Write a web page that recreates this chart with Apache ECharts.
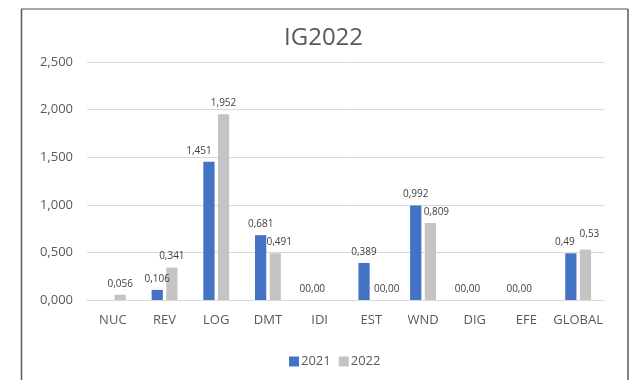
<!DOCTYPE html>
<html>
<head>
<meta charset="utf-8">
<script src="https://cdn.jsdelivr.net/npm/echarts@6/dist/echarts.min.js"></script>
<style>
  html, body { margin: 0; padding: 0; background: #fff; }
  #chart { width: 630px; height: 380px; }
</style>
</head>
<body>
<div id="chart"></div>
<script>
// Indicator categories
const categories = ['NUC', 'REV', 'LOG', 'DMT', 'IDI', 'EST', 'WND', 'DIG', 'EFE', 'GLOBAL'];
// Series values (null = no value reported)
const values2021 = [null, 0.106, 1.451, 0.681, 0, 0.389, 0.992, 0, 0, 0.49];
const values2022 = [0.056, 0.341, 1.952, 0.491, null, 0, 0.809, null, null, 0.53];
const seriesNames = ['2021', '2022'];
// Value axis ticks
const yTicks = [0, 0.5, 1, 1.5, 2, 2.5];

const FONT = '"Open Sans", "Noto Sans", sans-serif';

function fmtLabel(p) {
  const v = p.value;
  if (v === null || v === undefined) return '';
  if (v === 0) return '00,00';
  return String(v).replace('.', ',');
}

const chart = echarts.init(document.getElementById('chart'), null, { renderer: 'canvas' });

const labelStyle = {
  show: true,
  position: 'top',
  distance: 6,
  fontFamily: FONT,
  fontSize: 10,
  color: '#404040',
  formatter: fmtLabel
};

// nudge a few labels sideways so neighbouring labels do not collide
function withLabelShift(values, shifts) {
  return values.map((v, i) => shifts[i] ? { value: v, label: { offset: shifts[i] } } : v);
}

chart.setOption({
  backgroundColor: '#ffffff',
  animation: false,
  title: {
    text: 'IG2022',
    left: 279,
    top: 21,
    textStyle: { fontFamily: FONT, fontSize: 24, fontWeight: 'normal', color: '#595959' }
  },
  legend: {
    data: seriesNames,
    left: 284,
    top: 350,
    icon: 'rect',
    itemWidth: 10,
    itemHeight: 10,
    itemGap: 8,
    textStyle: { fontFamily: FONT, fontSize: 13, color: '#595959', padding: [0, 0, 0, -3] }
  },
  grid: { left: 87, right: 26, top: 62, bottom: 80, containLabel: false },
  xAxis: {
    type: 'category',
    data: categories,
    axisLine: { show: true, lineStyle: { color: '#d9d9d9', width: 1 } },
    axisTick: { show: false },
    axisLabel: { interval: 0, fontFamily: FONT, fontSize: 13, color: '#595959', margin: 14 }
  },
  yAxis: {
    type: 'value',
    min: yTicks[0],
    max: yTicks[yTicks.length - 1],
    interval: 0.5,
    axisLine: { show: false },
    axisTick: { show: false },
    splitLine: { lineStyle: { color: '#d9d9d9', width: 1 } },
    axisLabel: {
      fontFamily: FONT, fontSize: 13, color: '#595959', margin: 14,
      formatter: v => v.toFixed(3).replace('.', ',')
    }
  },
  series: [
    {
      name: seriesNames[0],
      type: 'bar',
      data: withLabelShift(values2021, { 2: [-10, 0], 9: [-6, 0] }),
      itemStyle: { color: '#4472c4' },
      barGap: '30%',
      barCategoryGap: '50%',
      label: labelStyle
    },
    {
      name: seriesNames[1],
      type: 'bar',
      data: withLabelShift(values2022, { 3: [4, 0], 5: [8, 0], 6: [6, 0], 9: [4, -4] }),
      itemStyle: { color: '#c4c4c4' },
      barGap: '30%',
      barCategoryGap: '50%',
      label: labelStyle
    }
  ],
  graphic: [
    { type: 'line', shape: { x1: 21, y1: 9, x2: 628, y2: 9 }, style: { stroke: '#a6a6a6', lineWidth: 2 } },
    { type: 'line', shape: { x1: 21.5, y1: 9, x2: 21.5, y2: 380 }, style: { stroke: '#595959', lineWidth: 1.5 } },
    { type: 'line', shape: { x1: 628, y1: 9, x2: 628, y2: 380 }, style: { stroke: '#595959', lineWidth: 1.5 } }
  ]
});
</script>
</body>
</html>
